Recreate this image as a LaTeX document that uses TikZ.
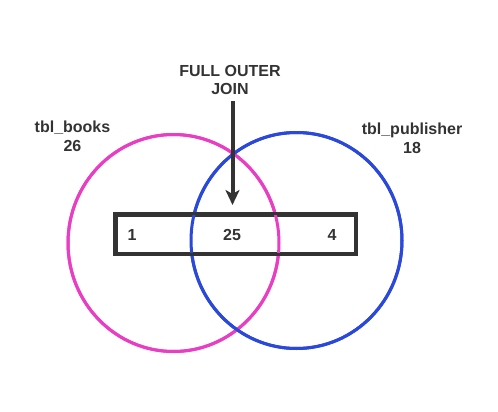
\documentclass[tikz,border=0pt]{standalone}
\usepackage{fontspec}
\setmainfont{Liberation Sans}
\usetikzlibrary{arrows.meta,shadows}
\definecolor{pinkc}{HTML}{E93EC4}
\definecolor{bluec}{HTML}{2A48DA}
\definecolor{txt}{HTML}{333333}
\begin{document}
\begin{tikzpicture}[x=1pt,y=-1pt,
  lbl/.style={font=\fontsize{16}{18.5}\selectfont\bfseries, text=txt, align=center, inner sep=0pt},
  venn/.style={line width=3pt},
  box/.style={draw=txt, line width=3pt, fill=white, drop shadow={shadow xshift=2pt, shadow yshift=-3pt, opacity=0.25}}]
\useasboundingbox[fill=white] (0,0) rectangle (498,412);
\draw[venn, pinkc] (173.5,243) ellipse [x radius=105.5, y radius=108.5];
\draw[venn, bluec] (296.5,240.5) ellipse [x radius=105.5, y radius=108];
\node[box, minimum width=239pt, minimum height=38pt, inner sep=0pt] (rect) at (235.5,234) {};
\draw[venn, pinkc] (173.5,243) ellipse [x radius=105.5, y radius=108.5];
\draw[venn, bluec] (296.5,240.5) ellipse [x radius=105.5, y radius=108];
\draw[txt, line width=3pt] (rect.north west) rectangle (rect.south east);
\node[lbl] (one) at (132,235) {1};
\node[lbl] (mid) at (232,235) {25};
\node[lbl] (four) at (332,235) {4};
\node[lbl] (title) at (230,80) {FULL OUTER\\JOIN};
\node[lbl] (books) at (72.5,136.5) {tbl\_books\\26};
\node[lbl] (pub) at (412,138.5) {tbl\_publisher\\18};
\coordinate (start) at (232.5,101);
\coordinate (tip) at (232.5,205);
\draw[txt, line width=4pt, -{Stealth[length=15pt, width=14pt, inset=4pt]}] (start) -- (tip);
\end{tikzpicture}
\end{document}
